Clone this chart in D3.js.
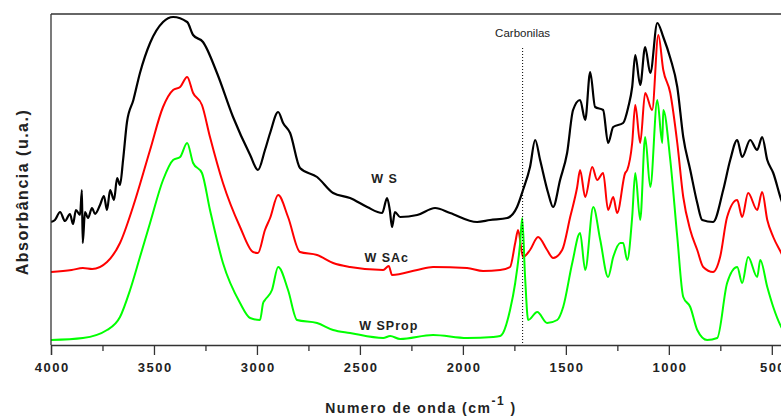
<!DOCTYPE html>
<html><head><meta charset="utf-8">
<script src="https://cdn.jsdelivr.net/npm/d3@7"></script>
<style>body{margin:0;background:#fff}svg{display:block}</style>
</head><body>
<svg id="chart" width="781" height="416"></svg>
<script>
// wavenumber (cm-1) and absorbance (a.u.)
const wsWave = [4000,3981,3956,3932,3908,3893,3879,3859,3850,3846,3835,3820,3801,3786,3762,3743,3728,3713,3694,3679,3665,3650,3631,3600,3568,3519,3456,3407,3339,3310,3262,3194,3116,3033,2995,2961,2936,2897,2873,2839,2791,2708,2630,2548,2465,2392,2368,2355,2344,2330,2305,2222,2135,2062,1931,1868,1785,1737,1708,1674,1649,1625,1586,1562,1528,1494,1465,1431,1406,1382,1358,1319,1295,1270,1222,1197,1178,1163,1139,1115,1090,1056,1027,993,959,930,896,862,838,785,736,702,668,644,605,571,547,522,493,454,400];
const wsAbs  = [1.23,1.25,1.33,1.24,1.31,1.21,1.35,1.30,1.55,1.02,1.33,1.27,1.37,1.31,1.40,1.49,1.35,1.55,1.45,1.67,1.60,1.85,2.23,2.45,2.72,3.02,3.23,3.28,3.23,3.10,3.03,2.72,2.28,1.90,1.75,1.95,2.12,2.33,2.22,2.12,1.77,1.68,1.52,1.47,1.38,1.32,1.47,1.35,1.18,1.33,1.28,1.30,1.37,1.32,1.23,1.25,1.27,1.38,1.55,1.78,2.05,1.85,1.52,1.38,1.65,1.92,2.35,2.45,2.25,2.73,2.38,2.35,2.02,2.18,2.22,2.38,2.58,2.90,2.60,2.98,2.72,3.22,3.08,2.87,2.58,2.08,1.75,1.42,1.25,1.23,1.55,1.85,2.05,1.88,2.05,1.95,2.08,1.85,1.72,1.45,1.20];

const wsacWave = [4000,3900,3845,3800,3728,3665,3602,3519,3456,3407,3373,3339,3310,3267,3228,3165,3082,3019,2995,2961,2936,2897,2849,2791,2708,2630,2548,2387,2360,2344,2222,2145,1980,1902,1819,1771,1746,1732,1708,1674,1635,1591,1562,1518,1479,1445,1431,1406,1372,1348,1319,1295,1270,1251,1212,1202,1178,1163,1139,1115,1081,1051,1027,993,959,930,896,862,833,785,751,717,668,644,615,571,547,522,493,454,400];
const wsacAbs  = [0.73,0.75,0.77,0.76,0.83,1.02,1.38,1.95,2.38,2.55,2.58,2.68,2.52,2.40,2.08,1.62,1.18,0.93,0.92,1.15,1.27,1.50,1.28,0.93,0.90,0.82,0.78,0.75,0.79,0.70,0.75,0.78,0.77,0.74,0.75,0.78,1.02,1.15,0.88,0.95,1.08,0.95,0.87,0.95,1.28,1.58,1.75,1.48,1.78,1.65,1.72,1.35,1.48,1.32,1.72,1.75,2.02,2.40,2.02,2.52,2.35,3.10,2.75,2.52,2.02,1.48,1.15,0.95,0.78,0.73,0.88,1.28,1.45,1.28,1.52,1.35,1.53,1.25,1.08,0.92,0.70];

const wspropWave = [4000,3845,3728,3665,3616,3568,3519,3456,3407,3373,3339,3310,3267,3228,3165,3082,3033,2985,2970,2961,2927,2897,2849,2805,2708,2630,2548,2387,2353,2305,2145,1980,1853,1819,1805,1771,1746,1722,1712,1698,1683,1639,1591,1542,1513,1469,1431,1406,1367,1333,1295,1270,1236,1222,1202,1178,1163,1139,1115,1090,1056,1032,1027,993,959,930,896,862,814,765,717,668,644,615,571,556,522,493,454,400];
const wspropAbs  = [0.05,0.07,0.15,0.28,0.55,0.88,1.22,1.65,1.85,1.88,2.02,1.82,1.72,1.35,0.82,0.42,0.27,0.25,0.42,0.45,0.55,0.78,0.55,0.25,0.22,0.15,0.12,0.07,0.09,0.06,0.10,0.07,0.08,0.09,0.12,0.35,0.62,1.02,1.27,0.68,0.25,0.33,0.22,0.25,0.38,0.82,1.12,0.75,1.38,1.05,0.68,0.88,1.02,1.02,0.85,1.28,1.72,1.25,2.08,1.58,2.45,2.02,2.35,1.85,1.08,0.48,0.38,0.15,0.05,0.07,0.62,0.78,0.62,0.88,0.68,0.85,0.58,0.38,0.18,0.05];

const seriesNames = ["W S", "W SAc", "W SProp"];
const seriesColors = ["#000000", "#ff0000", "#00ff00"];
const labelPos = [[2380, 1.62], [2370, 0.83], [2360, 0.15]];
const xTicks = [4000, 3500, 3000, 2500, 2000, 1500, 1000, 500];
const xMinorTicks = [3750, 3250, 2750, 2250, 1750, 1250, 750];
const carbonylWave = 1710;

const svg = d3.select("#chart");
const x = d3.scaleLinear().domain([4000, 400]).range([51, 792.4]);
const y = d3.scaleLinear().domain([0, 3.31]).range([345, 14]);

svg.append("clipPath").attr("id", "clip")
  .append("rect").attr("x", 51).attr("y", 14).attr("width", 742).attr("height", 331);

const series = [
  {w: wsWave, a: wsAbs},
  {w: wsacWave, a: wsacAbs},
  {w: wspropWave, a: wspropAbs}
];

const line = d3.line().x(d => x(d[0])).y(d => y(d[1])).curve(d3.curveMonotoneX);
const g = svg.append("g").attr("clip-path", "url(#clip)");
series.forEach((s, i) => {
  const pts = s.w.map((w, j) => [w, s.a[j]]);
  g.append("path").datum(pts)
    .attr("d", line)
    .attr("fill", "none")
    .attr("stroke", seriesColors[i])
    .attr("stroke-width", i === 0 ? 2.2 : 2)
    .attr("stroke-linejoin", "round");
});

// frame
svg.append("line").attr("x1", 51).attr("x2", 781).attr("y1", 14).attr("y2", 14)
  .attr("stroke", "#333").attr("stroke-width", 1.3);
svg.append("line").attr("x1", 51).attr("x2", 51).attr("y1", 14).attr("y2", 345)
  .attr("stroke", "#333").attr("stroke-width", 1.3);

// x axis
const axis = svg.append("g").attr("transform", "translate(0,345)")
  .call(d3.axisBottom(x).tickValues(xTicks).tickSize(10).tickPadding(8).tickFormat(d3.format("d")));
axis.select(".domain").attr("stroke", "#333").attr("stroke-width", 1.3);
axis.selectAll(".tick line").attr("stroke", "#333").attr("stroke-width", 1.3);
axis.selectAll(".tick text")
  .attr("font-family", "Liberation Sans, Arial, sans-serif")
  .attr("font-size", 13).attr("fill", "#222").attr("letter-spacing", "1.5px")
  .attr("font-weight", "bold").attr("dx", "0.7px");
const minor = svg.append("g").attr("transform", "translate(0,345)")
  .call(d3.axisBottom(x).tickValues(xMinorTicks).tickSize(6).tickFormat(""));
minor.select(".domain").remove();
minor.selectAll(".tick line").attr("stroke", "#333").attr("stroke-width", 1.3);

// carbonyl marker
svg.append("line")
  .attr("x1", x(carbonylWave)).attr("x2", x(carbonylWave))
  .attr("y1", 48).attr("y2", 345)
  .attr("stroke", "#000").attr("stroke-width", 1).attr("stroke-dasharray", "1,2");
svg.append("text").attr("x", x(carbonylWave)).attr("y", 37)
  .attr("text-anchor", "middle")
  .attr("font-family", "Liberation Sans, Arial, sans-serif")
  .attr("font-size", 11.5).attr("fill", "#222")
  .text("Carbonilas");

// series labels
seriesNames.forEach((n, i) => {
  svg.append("text")
    .attr("x", x(labelPos[i][0])).attr("y", y(labelPos[i][1]))
    .attr("text-anchor", "middle")
    .attr("font-family", "Liberation Sans, Arial, sans-serif")
    .attr("font-size", 12.5).attr("font-weight", "bold")
    .attr("letter-spacing", "1px").attr("fill", "#222")
    .text(n);
});

// axis titles
const xt = svg.append("text").attr("x", 421).attr("y", 413)
  .attr("text-anchor", "middle")
  .attr("font-family", "Liberation Sans, Arial, sans-serif")
  .attr("font-size", 14).attr("font-weight", "bold")
  .attr("letter-spacing", "1.5px").attr("fill", "#222");
xt.append("tspan").text("Numero de onda (cm");
xt.append("tspan").attr("dy", -8).attr("font-size", 12).text("-1");
xt.append("tspan").attr("dy", 8).text(" )");

svg.append("text")
  .attr("transform", "translate(28,192) rotate(-90)")
  .attr("text-anchor", "middle")
  .attr("font-family", "Liberation Sans, Arial, sans-serif")
  .attr("font-size", 16).attr("font-weight", "bold")
  .attr("letter-spacing", "1.5px").attr("fill", "#222")
  .text("Absorbância (u.a.)");
</script>
</body></html>
